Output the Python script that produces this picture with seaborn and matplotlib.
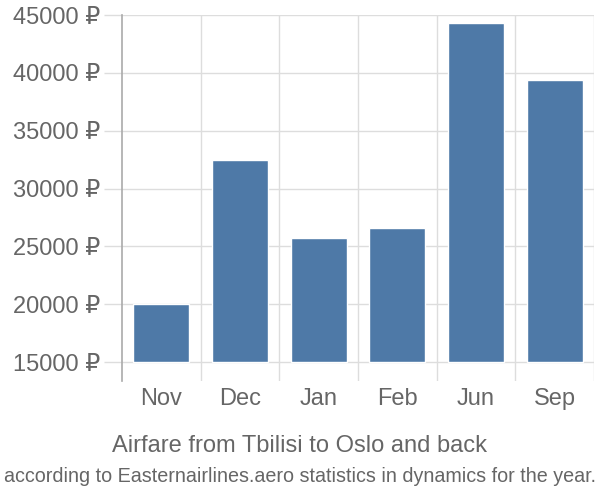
import matplotlib
matplotlib.use("Agg")
import matplotlib.pyplot as plt
import seaborn as sns
import pandas as pd
from matplotlib.ticker import FuncFormatter, FixedLocator

months = ["Nov", "Dec", "Jan", "Feb", "Jun", "Sep"]
prices = [20000, 32500, 25750, 26550, 44350, 39350]
y_ticks = [15000, 20000, 25000, 30000, 35000, 40000, 45000]
title = "Airfare from Tbilisi to Oslo and back"
subtitle = "according to Easternairlines.aero statistics in dynamics for the year."

sns.set_theme(style="white")
plt.rcParams["font.family"] = ["Liberation Sans", "DejaVu Sans"]

df = pd.DataFrame({"month": months, "price": prices})

fig = plt.figure(figsize=(6, 5), dpi=100)
ax = fig.add_axes([122/600, 1-381/500, (594-122)/600, (381-15)/500])

base = 15000
sns.barplot(data=df, x="month", y="price", color="#4e79a7", saturation=1,
            width=0.71, ax=ax, zorder=3)
for p in ax.patches:
    h = p.get_height()
    p.set_y(base)
    p.set_height(h - base)

ax.set_ylim(13360, 45000)
ax.set_xlim(-0.5, len(months) - 0.5)
ax.yaxis.set_major_locator(FixedLocator(y_ticks))
ax.yaxis.set_major_formatter(FuncFormatter(lambda v, _: f"{int(v)} ₽"))
ax.set_xticks(range(len(months)))
ax.set_xticklabels(months)
ax.set_xticks([i + 0.5 for i in range(len(months))], minor=True)

ax.grid(False)
ax.yaxis.grid(True, color="#dddddd", linewidth=1)
ax.xaxis.grid(True, which="minor", color="#dddddd", linewidth=1)
ax.set_axisbelow(True)

for s in ["top", "right", "bottom"]:
    ax.spines[s].set_visible(False)
ax.spines["left"].set_color("#aaaaaa")
ax.spines["left"].set_linewidth(1.2)

ax.tick_params(axis="y", length=13, width=1, color="#dddddd", pad=3,
               labelsize=17, labelcolor="#666666", left=True)
ax.tick_params(axis="x", which="major", length=0, pad=5, labelsize=17,
               labelcolor="#666666")
ax.tick_params(axis="x", which="minor", length=0)
ax.set_xlabel("")
ax.set_ylabel("")

fig.text(0.5, 1-446/500, title, ha="center", va="center", fontsize=17, color="#666666")
fig.text(0.5, 1-477/500, subtitle, ha="center", va="center", fontsize=14.2, color="#666666")

fig.savefig("out.png", dpi=100)
